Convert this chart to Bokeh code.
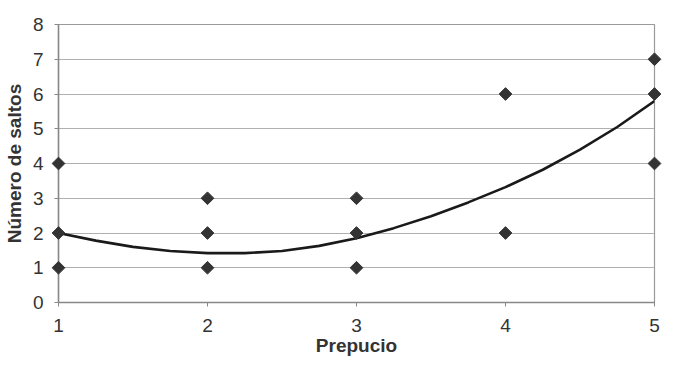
import numpy as np
from bokeh.plotting import figure
from bokeh.models import FixedTicker, Range1d
from bokeh.embed import file_html
from bokeh.resources import INLINE

# data
prepucio = [1, 1, 1, 2, 2, 2, 3, 3, 3, 4, 4, 5, 5, 5]
saltos = [1, 2, 4, 1, 2, 3, 1, 2, 3, 2, 6, 4, 6, 7]

# trendline
trend_x = [1.0, 1.25, 1.5, 1.75, 2.0, 2.25, 2.5, 2.75, 3.0, 3.25, 3.5, 3.75, 4.0, 4.25, 4.5, 4.75, 5.0]
trend_y = [2.0, 1.78, 1.6, 1.48, 1.42, 1.42, 1.48, 1.63, 1.85, 2.14, 2.48, 2.88, 3.32, 3.82, 4.4, 5.05, 5.8]

x_ticks = [1, 2, 3, 4, 5]
y_ticks = [0, 1, 2, 3, 4, 5, 6, 7, 8]

p = figure(width=669, height=361, output_backend="svg", toolbar_location=None,
           x_range=Range1d(1, 5), y_range=Range1d(0, 8),
           min_border_left=57, min_border_right=15, min_border_top=24, min_border_bottom=59)

p.background_fill_color = "white"
p.border_fill_color = "white"
p.outline_line_color = "#9a9a9a"
p.outline_line_width = 1.2

p.xgrid.grid_line_color = None
p.ygrid.grid_line_color = "#b0b0b0"
p.ygrid.grid_line_width = 1.2

p.xaxis.ticker = FixedTicker(ticks=x_ticks)
p.yaxis.ticker = FixedTicker(ticks=y_ticks)
for ax in (p.xaxis, p.yaxis):
    ax.minor_tick_line_color = None
    ax.axis_line_color = "#888888"
    ax.axis_line_width = 1.5
    ax.major_tick_line_color = "#888888"
    ax.major_tick_in = 0
    ax.major_tick_out = 4
    ax.major_label_text_font = "Liberation Sans"
    ax.major_label_text_font_size = "19px"
    ax.major_label_text_color = "#333333"
    ax.axis_label_text_font = "Liberation Sans"
    ax.axis_label_text_font_size = "19px"
    ax.axis_label_text_font_style = "bold"
    ax.axis_label_text_color = "#333333"

p.xaxis.axis_label = "Prepucio"
p.yaxis.axis_label = "Número de saltos"
p.xaxis.major_label_standoff = 12
p.xaxis.axis_label_standoff = 0
p.yaxis.major_label_standoff = 11
p.yaxis.axis_label_standoff = 5

p.line(trend_x, trend_y, line_color="#1a1a1a", line_width=2.6)
r = p.scatter(prepucio, saltos, marker="square", angle=np.pi / 4, size=9,
              fill_color="#333333", line_color="#333333")
r.level = "overlay"

open("out.html", "w").write(file_html(p, INLINE))
